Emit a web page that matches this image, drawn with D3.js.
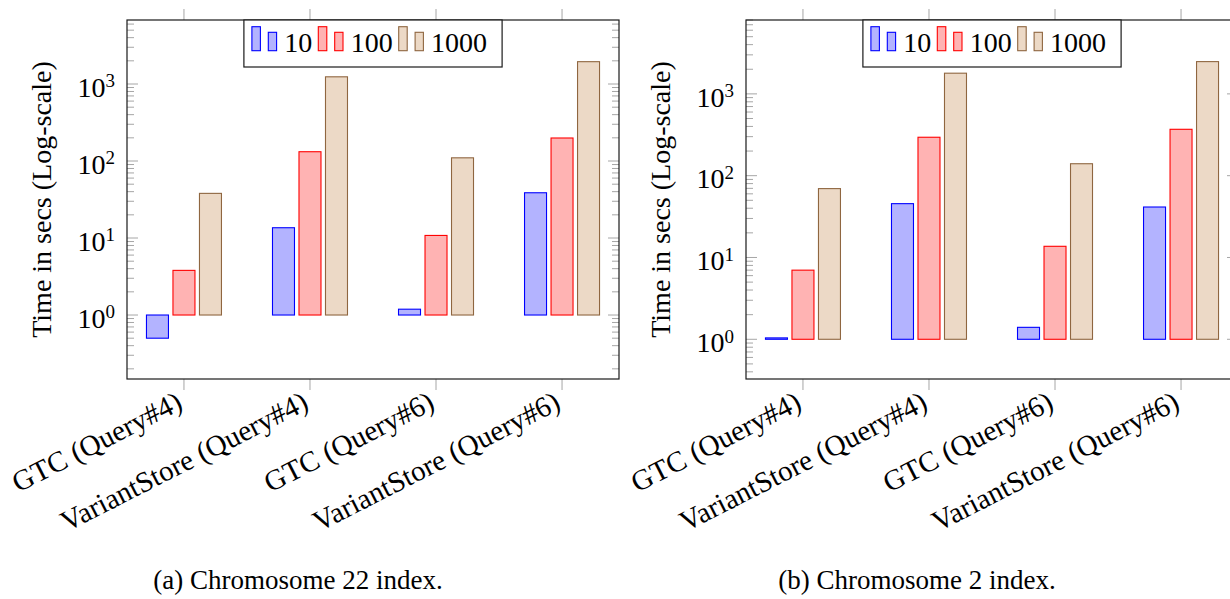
<!DOCTYPE html>
<html>
<head>
<meta charset="utf-8">
<script src="https://cdn.jsdelivr.net/npm/d3@7"></script>
<style>
  html, body { margin: 0; padding: 0; background: #fff; }
</style>
</head>
<body>
<svg id="chart" width="1230" height="599" font-family="'Liberation Serif', 'Times New Roman', 'DejaVu Serif', serif"></svg>
<script>
// categorias y series
const categories = ["GTC (Query#4)", "VariantStore (Query#4)", "GTC (Query#6)", "VariantStore (Query#6)"];
const seriesNames = ["10", "100", "1000"];

// Chromosome 22
const chr22_10 = [0.5, 13.6, 1.19, 38.7];
const chr22_100 = [3.8, 132, 10.8, 199];
const chr22_1000 = [38, 1240, 110, 1950];

// Chromosome 2
const chr2_10 = [1.04, 45.5, 1.4, 41.4];
const chr2_100 = [7.0, 295, 13.7, 369];
const chr2_1000 = [69.5, 1790, 140, 2480];

const yDomain22 = [0.1476, 6780];
const yDomain2 = [0.327, 8000];

const fills = ["#b3b3ff", "#ffb3b3", "#ecd9c6"];
const strokes = ["#0000ff", "#ff0000", "#8f6640"];

const svg = d3.select("#chart");

const panels = [
  { left: 127, values: [chr22_10, chr22_100, chr22_1000], domain: yDomain22,
    caption: "(a) Chromosome 22 index.", captionX: 298 },
  { left: 746, values: [chr2_10, chr2_100, chr2_1000], domain: yDomain2,
    caption: "(b) Chromosome 2 index.", captionX: 917 }
];

const plotTop = 20, plotW = 492, plotH = 359;
const fs = 28;
const serif = "'Liberation Serif', 'Times New Roman', 'DejaVu Serif', serif";

panels.forEach(p => {
  const g = svg.append("g").attr("font-family", serif);
  const x0 = p.left, x1 = p.left + plotW, y0 = plotTop, y1 = plotTop + plotH;

  const x = d3.scalePoint().domain(categories).range([x0, x1]).padding(0.452);
  const xs = d3.scaleBand().domain(seriesNames).range([-37.5, 37.5]).paddingInner(0.17);
  const y = d3.scaleLog().domain(p.domain).range([y1, y0]);

  // ticks menores / mayores del eje log
  const lo = Math.floor(Math.log10(p.domain[0])), hi = Math.ceil(Math.log10(p.domain[1]));
  const major = [], minor = [];
  for (let e = lo; e <= hi; e++) {
    const b = Math.pow(10, e);
    if (b >= p.domain[0] && b <= p.domain[1]) major.push(b);
    for (let k = 2; k <= 9; k++) {
      const v = k * b;
      if (v >= p.domain[0] && v <= p.domain[1]) minor.push(v);
    }
  }

  const tickCol = "#a6a6a6";
  [[x0, 1], [x1, -1]].forEach(([ax, dir]) => {
    g.selectAll(null).data(minor).enter().append("line")
      .attr("x1", ax).attr("x2", ax + dir * 7)
      .attr("y1", d => y(d)).attr("y2", d => y(d))
      .attr("stroke", tickCol).attr("stroke-width", 1);
    g.selectAll(null).data(major).enter().append("line")
      .attr("x1", ax).attr("x2", ax + dir * 11)
      .attr("y1", d => y(d)).attr("y2", d => y(d))
      .attr("stroke", tickCol).attr("stroke-width", 1);
  });

  // ticks x arriba y abajo (hacia fuera)
  g.selectAll(null).data(categories).enter().append("line")
    .attr("x1", d => x(d)).attr("x2", d => x(d))
    .attr("y1", y0).attr("y2", y0 - 11)
    .attr("stroke", tickCol).attr("stroke-width", 1);
  g.selectAll(null).data(categories).enter().append("line")
    .attr("x1", d => x(d)).attr("x2", d => x(d))
    .attr("y1", y1).attr("y2", y1 + 11)
    .attr("stroke", tickCol).attr("stroke-width", 1);

  // barras
  const rows = [];
  seriesNames.forEach((s, j) => {
    categories.forEach((c, i) => rows.push({ cat: c, s: s, j: j, v: p.values[j][i] }));
  });
  g.selectAll("rect.bar").data(rows).enter().append("rect")
    .attr("class", "bar")
    .attr("x", d => x(d.cat) + xs(d.s))
    .attr("width", xs.bandwidth())
    .attr("y", d => Math.min(y(d.v), y(1)))
    .attr("height", d => Math.abs(y(d.v) - y(1)))
    .attr("fill", d => fills[d.j])
    .attr("stroke", d => strokes[d.j])
    .attr("stroke-width", 1.1);

  // marco
  g.append("rect")
    .attr("x", x0).attr("y", y0).attr("width", plotW).attr("height", plotH)
    .attr("fill", "none").attr("stroke", "#1a1a1a").attr("stroke-width", 1.2);

  // etiquetas eje y (10^n)
  const yl = g.selectAll(null).data(major).enter().append("text")
    .attr("x", x0 - 12).attr("y", d => y(d) + 12.7)
    .attr("text-anchor", "end")
    .attr("font-size", fs);
  yl.append("tspan").text("10");
  yl.append("tspan").attr("dy", -9.4).attr("font-size", 19)
    .text(d => Math.round(Math.log10(d)));

  // etiquetas eje x rotadas
  g.selectAll(null).data(categories).enter().append("text")
    .attr("transform", d => `translate(${x(d)},397) rotate(-27)`)
    .attr("x", -5)
    .attr("text-anchor", "end")
    .attr("dominant-baseline", "central")
    .attr("font-size", 29)
    .text(d => d);

  // titulo eje y
  g.append("text")
    .attr("transform", `translate(${x0 - 76.5},${(y0 + y1) / 2}) rotate(-90)`)
    .attr("text-anchor", "middle")
    .attr("font-size", fs)
    .text("Time in secs (Log-scale)");

  // leyenda
  const leg = g.append("g");
  const box = leg.append("rect").attr("y", y0).attr("height", 47)
    .attr("fill", "#fff").attr("stroke", "#1a1a1a").attr("stroke-width", 1.2);
  let cur = 8;
  seriesNames.forEach((s, j) => {
    leg.append("rect").attr("x", cur).attr("y", y0 + 6.7).attr("width", 8.5).attr("height", 24)
      .attr("fill", fills[j]).attr("stroke", strokes[j]).attr("stroke-width", 1.1);
    leg.append("rect").attr("x", cur + 16.4).attr("y", y0 + 12.3).attr("width", 8.3).attr("height", 18.4)
      .attr("fill", fills[j]).attr("stroke", strokes[j]).attr("stroke-width", 1.1);
    const t = leg.append("text").attr("x", cur + 32.4).attr("y", y0 + 31.7)
      .attr("font-size", fs).text(s);
    cur += 32.4 + t.node().getComputedTextLength() + 6;
  });
  const legW = cur - 6 + 15;
  const legX = (x0 + x1) / 2 - legW / 2;
  box.attr("x", 0).attr("width", legW);
  leg.attr("transform", `translate(${legX},0)`);

  // pie de figura
  svg.append("text")
    .attr("font-family", serif)
    .attr("x", p.captionX).attr("y", 589)
    .attr("text-anchor", "middle")
    .attr("font-size", 27)
    .text(p.caption);
});
</script>
</body>
</html>
